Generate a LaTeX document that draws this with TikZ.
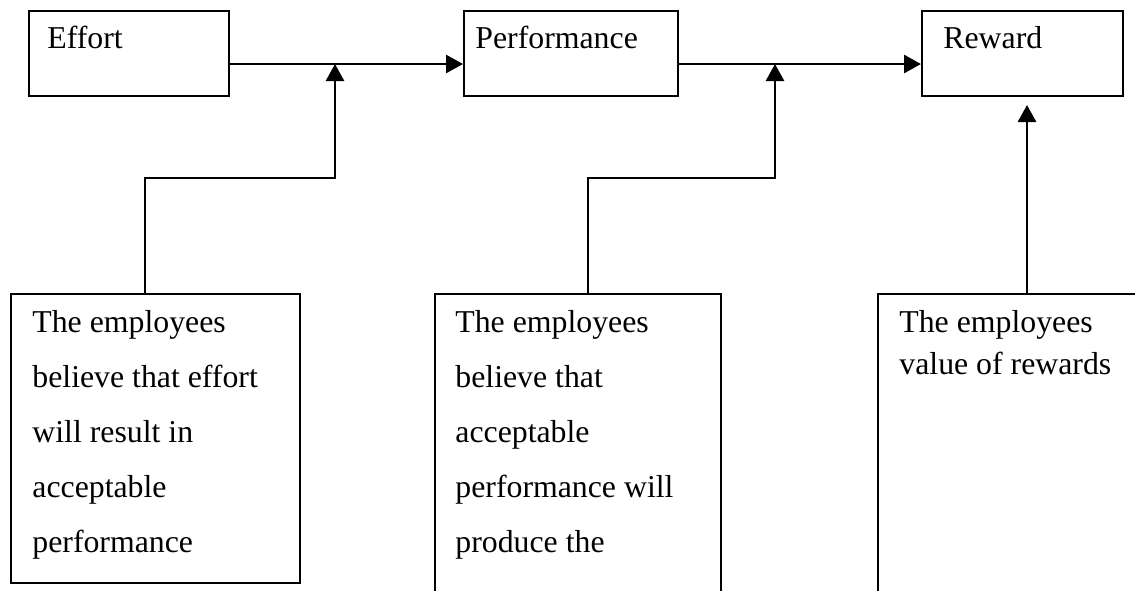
\documentclass[tikz,border=0pt]{standalone}
\usepackage{fontspec}
\setmainfont{Liberation Serif}
\usetikzlibrary{arrows.meta}
\begin{document}
\begin{tikzpicture}[x=0.5pt,y=-0.5pt,
  box/.style={draw,line width=1pt,rectangle,anchor=north west,inner sep=0pt},
  conn/.style={line width=1.4pt,-{Triangle[length=8.5pt,width=9pt]}},
  lbl/.style={anchor=base west,inner sep=0pt,align=left,font=\fontsize{15.9}{27.5}\selectfont},
  lbltight/.style={anchor=base west,inner sep=0pt,align=left,font=\fontsize{15.9}{21}\selectfont}]
\useasboundingbox (0,0) rectangle (1135,590);
\clip (0,0) rectangle (1135,590);
% top boxes
\node[box,minimum width=100pt,minimum height=42.5pt] (effort) at (28,10) {};
\node[box,minimum width=107pt,minimum height=42.5pt] (perf) at (463,10) {};
\node[box,minimum width=100.5pt,minimum height=42.5pt] (reward) at (921,10) {};
% bottom boxes
\node[box,minimum width=144.5pt,minimum height=144.5pt] (b1) at (10,293) {};
\node[box,minimum width=143pt,minimum height=170pt] (b2) at (434,293) {};
\node[box,minimum width=140pt,minimum height=170pt] (b3) at (877,293) {};
% labels (base anchor = baseline of last line)
\node[lbl] (teffort) at (47,48) {Effort};
\node[lbl] (tperf) at (475,48) {Performance};
\node[lbl] (treward) at (943,48) {Reward};
\node[lbl] (tb1) at (32,552) {The employees\\believe that effort\\will result in\\acceptable\\performance};
\node[lbl] (tb2) at (455,552) {The employees\\believe that\\acceptable\\performance will\\produce the};
\node[lbltight] (tb3) at (899,374) {The employees\\value of rewards};
% connectors
\coordinate (j1) at (335,64);
\coordinate (k1) at (145,178);
\coordinate (j2) at (775,64);
\coordinate (k2) at (588,178);
\coordinate (r1) at (1027,105);
\draw[conn] (effort.east |- j1) -- (perf.west |- j1);
\draw[conn] (perf.east |- j2) -- (reward.west |- j2);
\draw[conn] (b1.north -| k1) -- (k1) -| (j1);
\draw[conn] (b2.north -| k2) -- (k2) -| (j2);
\draw[conn] (b3.north -| r1) -- (r1);
\end{tikzpicture}
\end{document}
